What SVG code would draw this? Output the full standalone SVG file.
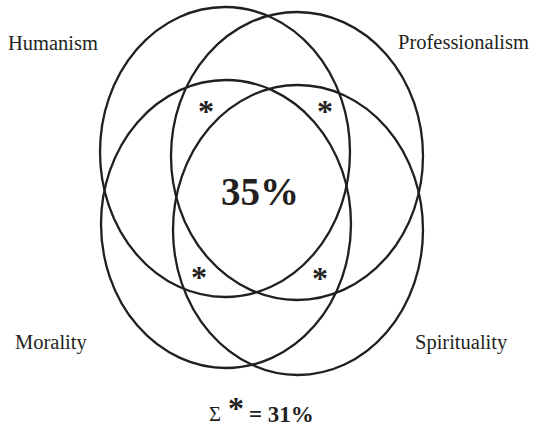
<svg xmlns="http://www.w3.org/2000/svg" width="535" height="428" viewBox="0 0 535 428">
<style>
.set{fill:none;stroke:#231f20;stroke-width:2.3}
.lbl{font-family:"Liberation Serif","Times New Roman",serif;font-size:20.5px;fill:#231f20}
.ast{font-family:"Liberation Serif","Times New Roman",serif;font-size:32px;font-weight:bold;fill:#231f20;text-anchor:middle}
.big{font-family:"Liberation Serif","Times New Roman",serif;font-weight:bold;fill:#231f20}
</style>
<rect width="535" height="428" fill="#ffffff"/>
<g id="humanism">
<ellipse class="set" cx="225" cy="152" rx="125" ry="145"/>
<text class="lbl" x="8" y="50">Humanism</text>
</g>
<g id="professionalism">
<ellipse class="set" cx="297" cy="156" rx="126" ry="144"/>
<text class="lbl" x="398" y="49">Professionalism</text>
</g>
<g id="morality">
<ellipse class="set" cx="226" cy="224" rx="125" ry="144"/>
<text class="lbl" x="15" y="349">Morality</text>
</g>
<g id="spirituality">
<ellipse class="set" cx="298" cy="230" rx="125" ry="145"/>
<text class="lbl" x="415" y="349">Spirituality</text>
</g>
<g id="overlaps">
<text class="ast" x="206" y="122">*</text>
<text class="ast" x="325" y="122">*</text>
<text class="ast" x="199" y="288">*</text>
<text class="ast" x="320" y="289">*</text>
<text class="big" x="260" y="205" font-size="39" text-anchor="middle">35%</text>
</g>
<g id="sum">
<text class="lbl" x="209" y="421">Σ</text>
<text class="ast" x="236" y="419" font-size="34">*</text>
<text class="big" x="249" y="422" font-size="23">= 31%</text>
</g>
</svg>
